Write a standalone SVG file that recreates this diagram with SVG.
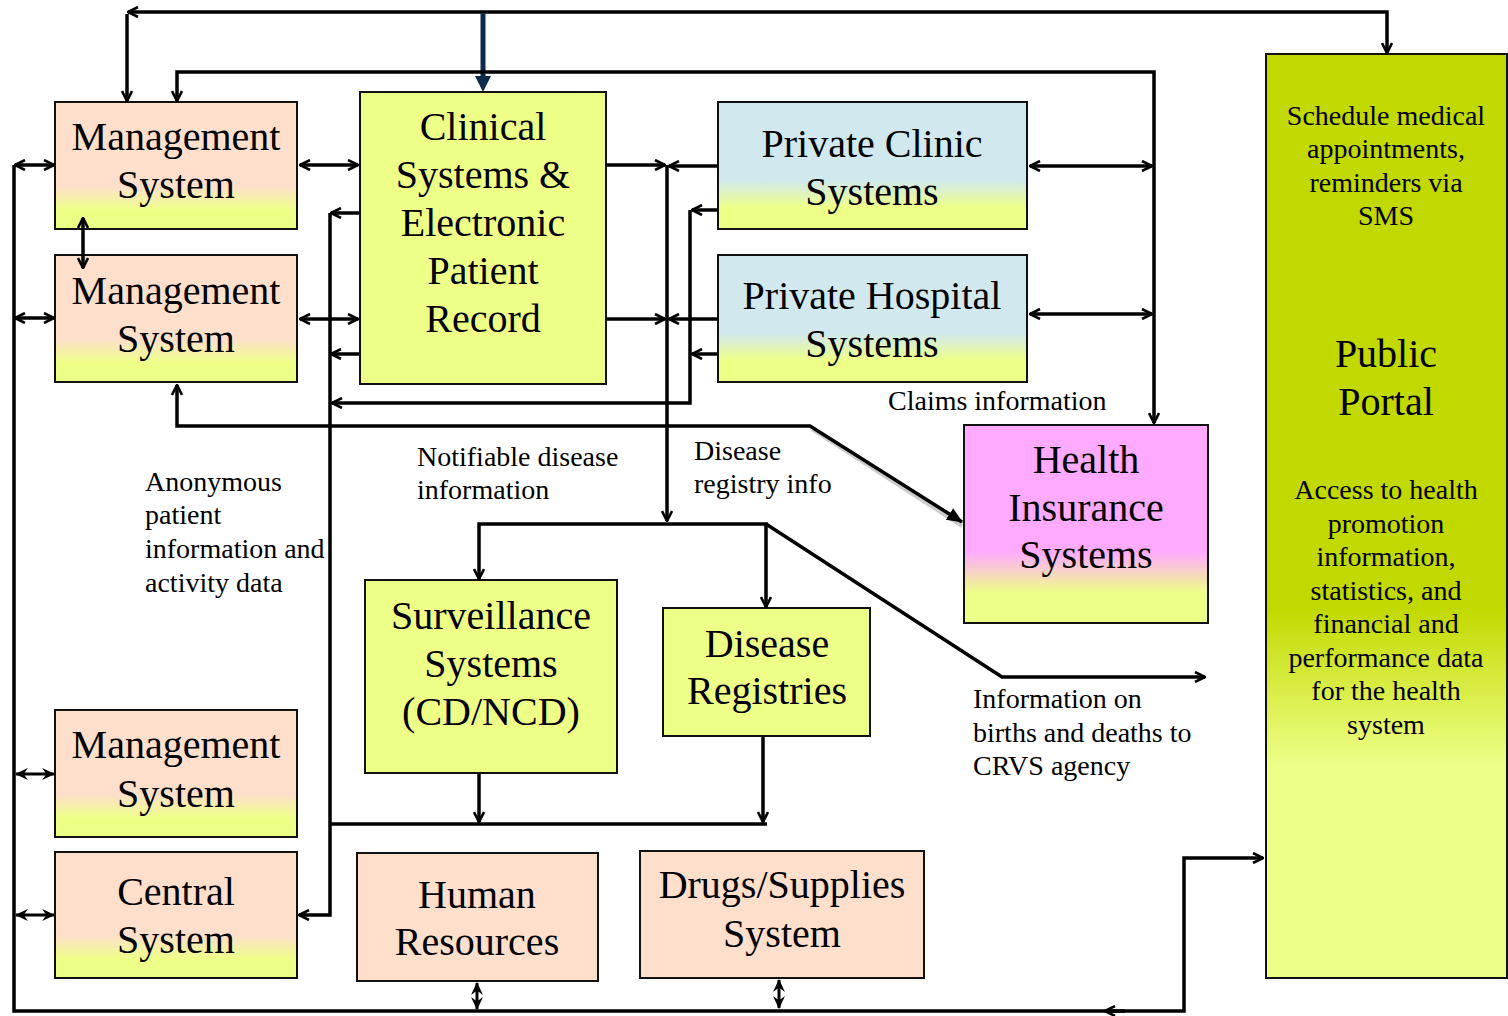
<svg xmlns="http://www.w3.org/2000/svg" width="1508" height="1016" viewBox="0 0 1508 1016">
<defs>
<linearGradient id="gPeach" x1="0" y1="0" x2="0" y2="1"><stop offset="0" stop-color="#fddfcc"/><stop offset="0.66" stop-color="#fddfcc"/><stop offset="0.85" stop-color="#eeff88"/><stop offset="1" stop-color="#eeff88"/></linearGradient>
<linearGradient id="gBlue" x1="0" y1="0" x2="0" y2="1"><stop offset="0" stop-color="#d1e9ee"/><stop offset="0.62" stop-color="#d1e9ee"/><stop offset="0.83" stop-color="#eeff88"/><stop offset="1" stop-color="#eeff88"/></linearGradient>
<linearGradient id="gPink" x1="0" y1="0" x2="0" y2="1"><stop offset="0" stop-color="#ffaaff"/><stop offset="0.64" stop-color="#ffaaff"/><stop offset="0.85" stop-color="#eeff88"/><stop offset="1" stop-color="#eeff88"/></linearGradient>
<linearGradient id="gPortal" x1="0" y1="0" x2="0" y2="1"><stop offset="0" stop-color="#c2d900"/><stop offset="0.6" stop-color="#c2d900"/><stop offset="0.77" stop-color="#eeff88"/><stop offset="1" stop-color="#eeff88"/></linearGradient>
<marker id="ah" viewBox="0 0 12 12" refX="11" refY="6" markerWidth="12" markerHeight="12" markerUnits="userSpaceOnUse" orient="auto-start-reverse"><path d="M1,1 L11,6 L1,11" fill="none" stroke="#000" stroke-width="2.6"/></marker>
<marker id="ahs" viewBox="0 0 12 12" refX="11" refY="6" markerWidth="13" markerHeight="13" markerUnits="userSpaceOnUse" orient="auto-start-reverse"><path d="M0,0.5 L12,6 L0,11.5 L4,6 Z" fill="#000"/></marker>
<marker id="tri" viewBox="0 0 14 14" refX="13" refY="7" markerWidth="16" markerHeight="16" markerUnits="userSpaceOnUse" orient="auto"><path d="M0,1 L14,7 L0,13 Z" fill="#000"/></marker>
<style>
.box{stroke:#111;stroke-width:2}
.peach{fill:url(#gPeach)}
.peachs{fill:#fddfcc}
.blue{fill:url(#gBlue)}
.pink{fill:url(#gPink)}
.yel{fill:#eeff88}
.portal{fill:url(#gPortal)}
.t{font-family:"Liberation Serif","Times New Roman",serif;font-size:40px;text-anchor:middle;fill:#000}
.s{font-family:"Liberation Serif","Times New Roman",serif;font-size:28px;text-anchor:middle;fill:#000}
.lb{font-family:"Liberation Serif","Times New Roman",serif;font-size:28px;fill:#000}
.ln{stroke:#000;stroke-width:3.5;fill:none}
.a2{marker-start:url(#ah);marker-end:url(#ah)}
.ae{marker-end:url(#ah)}
.sm{stroke-width:3;marker-start:url(#ahs);marker-end:url(#ahs)}
</style>
</defs>

<g id="ms1"><rect class="box peach" x="55" y="102" width="242" height="127"/><text class="t" x="176" y="150">Management</text><text class="t" x="176" y="198">System</text></g>
<g id="ms2"><rect class="box peach" x="55" y="255" width="242" height="127"/><text class="t" x="176" y="304">Management</text><text class="t" x="176" y="352">System</text></g>
<g id="clinical"><rect class="box yel" x="360" y="92" width="246" height="292"/><text class="t" x="483" y="140">Clinical</text><text class="t" x="483" y="188">Systems &amp;</text><text class="t" x="483" y="236">Electronic</text><text class="t" x="483" y="284">Patient</text><text class="t" x="483" y="332">Record</text></g>
<g id="privclinic"><rect class="box blue" x="718" y="102" width="309" height="127"/><text class="t" x="872" y="157">Private Clinic</text><text class="t" x="872" y="205">Systems</text></g>
<g id="privhosp"><rect class="box blue" x="718" y="255" width="309" height="127"/><text class="t" x="872" y="309">Private Hospital</text><text class="t" x="872" y="357">Systems</text></g>
<g id="insurance"><rect class="box pink" x="964" y="425" width="244" height="198"/><text class="t" x="1086" y="473">Health</text><text class="t" x="1086" y="521">Insurance</text><text class="t" x="1086" y="568">Systems</text></g>
<g id="surveillance"><rect class="box yel" x="365" y="580" width="252" height="193"/><text class="t" x="491" y="629">Surveillance</text><text class="t" x="491" y="677">Systems</text><text class="t" x="491" y="725">(CD/NCD)</text></g>
<g id="registries"><rect class="box yel" x="663" y="608" width="207" height="128"/><text class="t" x="767" y="657">Disease</text><text class="t" x="767" y="704">Registries</text></g>
<g id="ms3"><rect class="box peach" x="55" y="710" width="242" height="127"/><text class="t" x="176" y="758">Management</text><text class="t" x="176" y="807">System</text></g>
<g id="central"><rect class="box peach" x="55" y="852" width="242" height="126"/><text class="t" x="176" y="905">Central</text><text class="t" x="176" y="953">System</text></g>
<g id="hr"><rect class="box peachs" x="357" y="853" width="241" height="128"/><text class="t" x="477" y="908">Human</text><text class="t" x="477" y="955">Resources</text></g>
<g id="drugs"><rect class="box peachs" x="640" y="851" width="284" height="127"/><text class="t" x="782" y="898">Drugs/Supplies</text><text class="t" x="782" y="947">System</text></g>
<g id="portal"><rect class="box portal" x="1266" y="54" width="241" height="924"/>
<text class="s" x="1386" y="125">Schedule medical</text><text class="s" x="1386" y="158">appointments,</text><text class="s" x="1386" y="192">reminders via</text><text class="s" x="1386" y="225">SMS</text>
<text class="t" x="1386" y="367">Public</text><text class="t" x="1386" y="415">Portal</text>
<text class="s" x="1386" y="499">Access to health</text><text class="s" x="1386" y="533">promotion</text><text class="s" x="1386" y="566">information,</text><text class="s" x="1386" y="600">statistics, and</text><text class="s" x="1386" y="633">financial and</text><text class="s" x="1386" y="667">performance data</text><text class="s" x="1386" y="700">for the health</text><text class="s" x="1386" y="734">system</text></g>

<g id="connectors">
<path class="ln" d="M1387,53 V12 H128" style="marker-start:url(#ah);marker-end:url(#ah)"/>
<path class="ln ae" d="M127,14 V101"/>
<path d="M483,13 V78" stroke="#0e2b4d" stroke-width="5" fill="none"/>
<polygon points="475,76 491,76 483,92" fill="#0e2b4d"/>
<path class="ln a2" d="M177,101 V72 H1154 V423"/>
<path class="ln a2" d="M300,165 H358"/>
<path class="ln a2" d="M300,319 H358"/>
<path class="ln a2" d="M83,218 V268"/>
<path class="ln ae" d="M14,165 V1011 H1184 V858 H1263"/>
<path class="ln ae" d="M1125,1011 H1105"/>
<path class="ln a2" d="M15,165 H54"/>
<path class="ln a2" d="M15,318 H54"/>
<path class="ln sm" d="M16,774 H54"/>
<path class="ln sm" d="M16,915 H54"/>
<path class="ln ae" d="M359,213 H331"/>
<path class="ln ae" d="M359,354 H331"/>
<path class="ln ae" d="M330,213 V915 H299"/>
<path class="ln ae" d="M717,210 H692"/>
<path class="ln ae" d="M717,354 H692"/>
<path class="ln ae" d="M690,210 V403 H332"/>
<path class="ln ae" d="M606,165 H665"/>
<path class="ln ae" d="M606,319 H665"/>
<path class="ln ae" d="M667,165 V521"/>
<path class="ln ae" d="M717,166 H669"/>
<path class="ln ae" d="M717,319 H669"/>
<path class="ln a2" d="M1030,166 H1152"/>
<path class="ln a2" d="M1030,314 H1152"/>
<path d="M812,429 L962,526" stroke="#999" stroke-opacity="0.5" stroke-width="4" fill="none"/>
<path class="ln" d="M177,385 V426 H810 L962,522" style="marker-start:url(#ah);marker-end:url(#tri)"/>
<path class="ln a2" d="M479,579 V524 H766 V607"/>
<path class="ln ae" d="M766,524 L1002,677 H1205"/>
<path class="ln ae" d="M479,774 V822"/>
<path class="ln ae" d="M763,737 V822"/>
<path class="ln" d="M330,824 H767"/>
<path class="ln sm" d="M477,983 V1009"/>
<path class="ln sm" d="M779,980 V1008"/>
</g>

<g id="labels">
<text class="lb" x="888" y="410">Claims information</text>
<text class="lb" x="417" y="466">Notifiable disease</text><text class="lb" x="417" y="499">information</text>
<text class="lb" x="694" y="460">Disease</text><text class="lb" x="694" y="493">registry info</text>
<text class="lb" x="145" y="491">Anonymous</text><text class="lb" x="145" y="524">patient</text><text class="lb" x="145" y="558">information and</text><text class="lb" x="145" y="592">activity data</text>
<text class="lb" x="973" y="708">Information on</text><text class="lb" x="973" y="742">births and deaths to</text><text class="lb" x="973" y="775">CRVS agency</text>
</g>
</svg>
